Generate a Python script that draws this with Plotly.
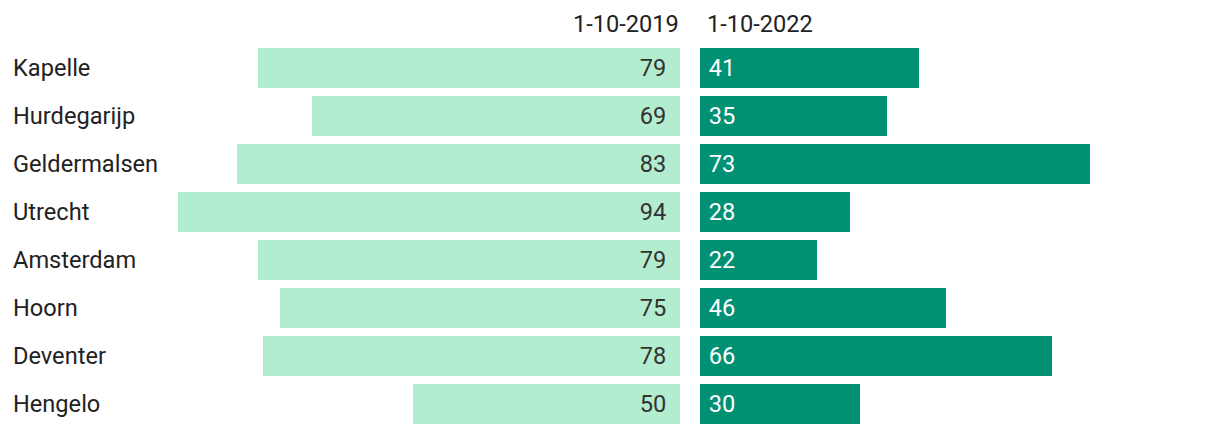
import plotly.graph_objects as go

places = ["Kapelle", "Hurdegarijp", "Geldermalsen", "Utrecht", "Amsterdam", "Hoorn", "Deventer", "Hengelo"]
v2019 = [79, 69, 83, 94, 79, 75, 78, 50]
v2022 = [41, 35, 73, 28, 22, 46, 66, 30]
headers = ["1-10-2019", "1-10-2022"]

W, H = 1220, 434
PX = 5.34  # pixels per unit
FONT = "Roboto"
FS = 23.6
NB = "\u00a0"

fig = go.Figure()
fig.add_trace(go.Bar(
    y=places, x=v2019, orientation="h", xaxis="x", yaxis="y",
    marker=dict(color="#b3edcf", line=dict(width=0)), width=0.833,
    text=[str(v) + NB + "\u2009" for v in v2019], textposition="inside", insidetextanchor="start",
    textfont=dict(family=FONT, size=FS, color="#333333"), cliponaxis=False,
    hoverinfo="skip",
))
fig.add_trace(go.Bar(
    y=places, x=v2022, orientation="h", xaxis="x2", yaxis="y",
    marker=dict(color="#009175", line=dict(width=0)), width=0.833,
    text=[NB + str(v) for v in v2022], textposition="inside", insidetextanchor="start",
    textfont=dict(family=FONT, size=FS, color="#ffffff"), cliponaxis=False,
    hoverinfo="skip",
))

for p in places:
    fig.add_annotation(x=3 / W, xref="paper", y=p, yref="y", text=p, showarrow=False,
                       xanchor="left", yanchor="middle",
                       font=dict(family=FONT, size=FS, color="#222222"))

fig.add_annotation(x=672 / W, xref="paper", y=(H - 16) / H, yref="paper", text=headers[0],
                   showarrow=False, xanchor="right", yanchor="middle",
                   font=dict(family=FONT, size=FS, color="#222222"), xshift=1)
fig.add_annotation(x=692 / W, xref="paper", y=(H - 16) / H, yref="paper", text=headers[1],
                   showarrow=False, xanchor="left", yanchor="middle",
                   font=dict(family=FONT, size=FS, color="#222222"), xshift=5)

fig.update_layout(
    width=W, height=H, margin=dict(l=0, r=0, t=0, b=0),
    paper_bgcolor="white", plot_bgcolor="white", showlegend=False,
    bargap=0, uniformtext=dict(mode=False),
    xaxis=dict(domain=[0, 672 / W], range=[672 / PX, 0], visible=False, fixedrange=True),
    xaxis2=dict(domain=[692 / W, 1], range=[0, 528 / PX], visible=False, fixedrange=True),
    yaxis=dict(domain=[(H - 420) / H, (H - 36) / H], range=[7.5, -0.5], visible=False,
               type="category", categoryorder="array", categoryarray=places, fixedrange=True),
)
fig.update_traces(textangle=0)

fig.write_html("out.html")
